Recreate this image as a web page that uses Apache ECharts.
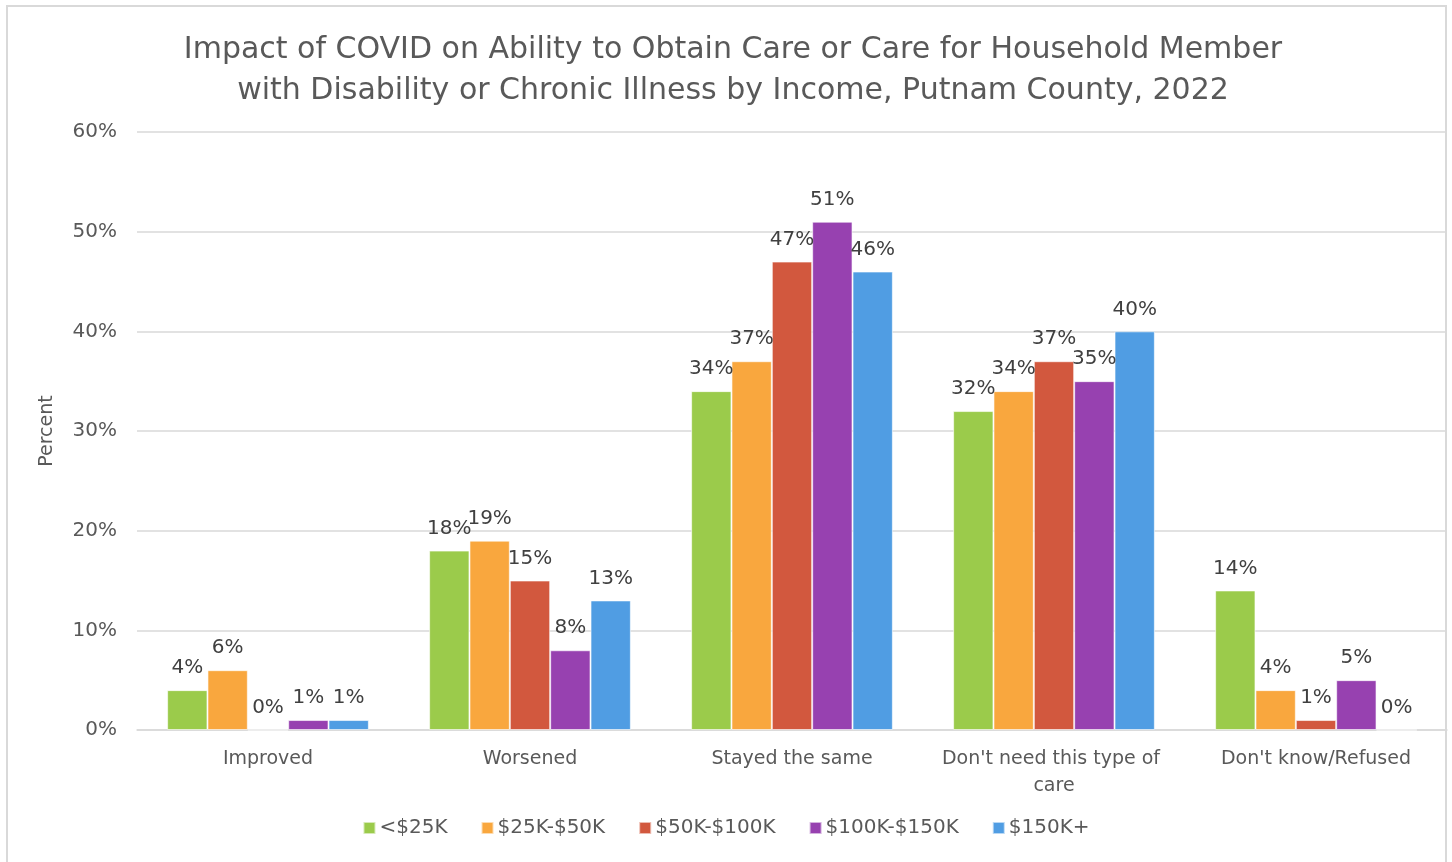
<!DOCTYPE html>
<html>
<head>
<meta charset="utf-8">
<script src="https://cdn.jsdelivr.net/npm/echarts@6/dist/echarts.min.js"></script>
<style>html,body{margin:0;padding:0;background:#fff;}#c{width:1452px;height:862px;}</style>
</head>
<body>
<div id="c"></div>
<script>
const categories = ["Improved", "Worsened", "Stayed the same", "Don't need this type of care", "Don't know/Refused"];
const seriesNames = ["<$25K", "$25K-$50K", "$50K-$100K", "$100K-$150K", "$150K+"];
const under25K = [4, 18, 34, 32, 14];
const k25to50 = [6, 19, 37, 34, 4];
const k50to100 = [0, 15, 47, 37, 1];
const k100to150 = [1, 8, 51, 35, 5];
const over150K = [1, 13, 46, 40, 0];
const yTicks = [0, 10, 20, 30, 40, 50, 60];
const colors = ["#9BCB4B", "#F9A73E", "#D2583E", "#9741B0", "#509DE3"];

const FONT = "DejaVu Sans";
const TXT = "#595959";
const allData = [under25K, k25to50, k50to100, k100to150, over150K];

const chart = echarts.init(document.getElementById('c'), null, {renderer: 'canvas'});
chart.setOption({
  backgroundColor: '#fff',
  animation: false,
  textStyle: {fontFamily: FONT, color: TXT},
  title: {
    text: 'Impact of COVID on Ability to Obtain Care or Care for Household Member\nwith Disability or Chronic Illness by Income, Putnam County, 2022',
    left: 728, top: 25, textAlign: 'center',
    textStyle: {fontFamily: FONT, fontSize: 30, fontWeight: 'normal', color: TXT, lineHeight: 41}
  },
  graphic: [{
    type: 'rect', silent: true,
    shape: {x: 7, y: 6, width: 1439, height: 880},
    style: {fill: 'none', stroke: '#D9D9D9', lineWidth: 2}
  }],
  grid: {left: 137, right: 5, top: 132, bottom: 132, containLabel: false},
  legend: {
    data: seriesNames, bottom: 19, left: 'center',
    itemWidth: 12, itemHeight: 12, itemGap: 33, icon: 'rect',
    textStyle: {fontFamily: FONT, fontSize: 20, color: TXT, padding: [0, 0, 0, -1]}
  },
  xAxis: {
    type: 'category', data: categories,
    axisLine: {lineStyle: {color: '#D9D9D9', width: 1.5}},
    axisTick: {show: false},
    axisLabel: {fontFamily: FONT, fontSize: 19, color: TXT, margin: 16, lineHeight: 27, width: 250, overflow: 'break', interval: 0}
  },
  yAxis: {
    type: 'value', min: 0, max: 60, interval: 10,
    name: 'Percent', nameLocation: 'middle', nameGap: 80, nameRotate: 90,
    nameTextStyle: {fontFamily: FONT, fontSize: 19, color: TXT},
    axisLine: {show: false}, axisTick: {show: false},
    axisLabel: {fontFamily: FONT, fontSize: 20, color: TXT, margin: 20, formatter: v => yTicks.includes(v) ? v + '%' : ''},
    splitLine: {lineStyle: {color: '#D9D9D9', width: 1.5}}
  },
  series: seriesNames.map((n, i) => ({
    name: n, type: 'bar', data: allData[i],
    barGap: '0%', barCategoryGap: '23%',
    itemStyle: {color: colors[i], borderColor: 'rgba(255,255,255,0.6)', borderWidth: 1},
    label: {show: true, position: 'top', distance: 12, formatter: '{c}%', fontFamily: FONT, fontSize: 20, color: '#404040'}
  }))
});
</script>
</body>
</html>
